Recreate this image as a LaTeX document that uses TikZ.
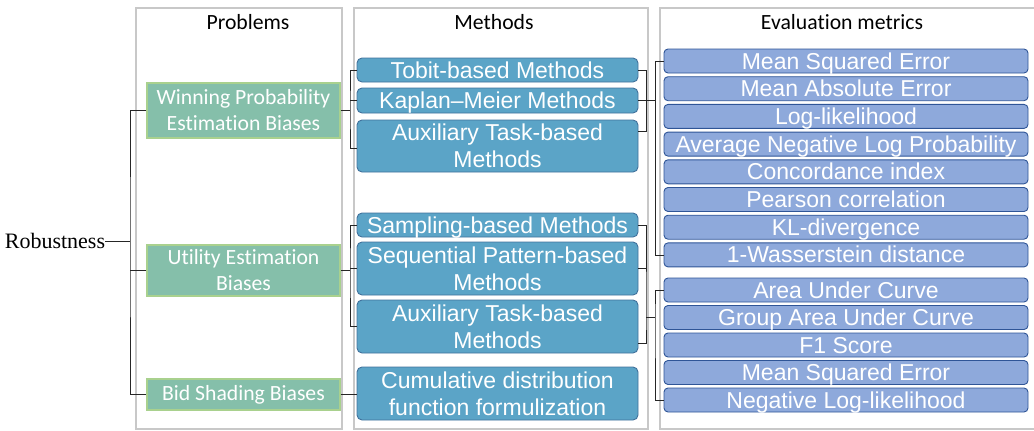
\documentclass[tikz,border=0pt]{standalone}
\usepackage{fontspec}
\setmainfont{Liberation Serif}
\newfontfamily\carlito[Ligatures=NoCommon]{Carlito}
\newfontfamily\arialf{Liberation Sans}
\usetikzlibrary{calc}
\definecolor{probfill}{RGB}{133,191,170}
\definecolor{probedge}{RGB}{169,209,142}
\definecolor{methfill}{RGB}{91,164,199}
\definecolor{methedge}{RGB}{65,113,156}
\definecolor{metfill}{RGB}{142,169,219}
\definecolor{metedge}{RGB}{47,85,151}
\definecolor{framegray}{RGB}{200,200,200}
\tikzset{
  colframe/.style={draw=framegray, line width=1.3pt},
  header/.style={font=\carlito\fontsize{21.7}{26}\selectfont, inner sep=0},
  probbox/.style={fill=probfill, draw=probedge, line width=1.3pt, text=white,
    font=\carlito\fontsize{21.7}{26}\selectfont, align=center, inner sep=0,
    minimum width=193pt},
  methbox/.style={fill=methfill, draw=methedge, line width=0.9pt, rounded corners=5pt,
    text=white, font=\arialf\fontsize{23}{27}\selectfont, align=center, inner sep=0,
    minimum width=281pt},
  oneline/.style={text height=17pt, text depth=1pt},
  metbox/.style={fill=metfill, draw=metedge, line width=0.9pt, rounded corners=4pt,
    text=white, font=\arialf\fontsize{23}{27}\selectfont, inner sep=0,
    minimum width=364pt, minimum height=24pt, oneline},
  link/.style={draw=black!85, line width=0.8pt}
}
\begin{document}
\begin{tikzpicture}[x=1pt,y=-1pt]
\useasboundingbox (0,0) rectangle (1034,431);
\draw[colframe] (136,8) rectangle (342,429);
\draw[colframe] (354,8) rectangle (648,429);
\draw[colframe] (660,8) rectangle (1040,429);
\node[header] (hprob) at (248,22) {Problems};
\node[header] (hmeth) at (494,22) {Methods};
\node[header] (hmet) at (842,22) {Evaluation metrics};

\node[inner sep=0, font=\fontsize{22}{26}\selectfont] (rob) at (55,241) {Robustness};

\node[probbox, minimum height=55pt] (wpeb) at (243.5,110.5) {Winning Probability\\Estimation Biases};
\node[probbox, minimum height=51pt] (ueb) at (243.5,270.5) {Utility Estimation\\Biases};
\node[probbox, minimum height=31pt] (bsb) at (243.5,394.5) {Bid Shading Biases};

\node[methbox, oneline, minimum height=24pt] (tobit) at (497.5,70) {Tobit-based Methods};
\node[methbox, oneline, minimum height=25pt] (kaplan) at (497.5,100.5) {Kaplan–Meier Methods};
\node[methbox, minimum height=52pt] (aux1) at (497.5,146) {Auxiliary Task-based\\Methods};
\node[methbox, oneline, minimum height=24pt] (sampling) at (497.5,225) {Sampling-based Methods};
\node[methbox, minimum height=53pt] (seq) at (497.5,268.5) {Sequential Pattern-based\\Methods};
\node[methbox, minimum height=53pt] (aux2) at (497.5,326.5) {Auxiliary Task-based\\Methods};
\node[methbox, minimum height=53pt] (cdf) at (497.5,393.5) {Cumulative distribution\\function formulization};

\foreach \lab [count=\i] in {Mean Squared Error, Mean Absolute Error, Log-likelihood,
    Average Negative Log Probability, Concordance index, Pearson correlation,
    KL-divergence, 1-Wasserstein distance}
  \node[metbox] (m\i) at (846,{61+27.7*(\i-1)}) {\lab};
\foreach \lab [count=\i] in {Area Under Curve, Group Area Under Curve, F1 Score,
    Mean Squared Error, Negative Log-likelihood}
  \node[metbox] (n\i) at (846,{290+27.5*(\i-1)}) {\lab};

\coordinate (rj) at (130,242);
\draw[link] (rob.east) -- (rob.east -| rj);
\draw[link] (wpeb.west) -| (rj) |- (bsb.west);
\draw[link] (ueb.west) -- (ueb.west -| rj);

\coordinate (pj1) at (350,110.5);
\coordinate (pj2) at (350,270.5);
\draw[link] (wpeb.east) -- (pj1);
\draw[link] (tobit.west) -| (pj1) |- ($(aux1.west)+(0,2)$);
\draw[link] (kaplan.west) -- (kaplan.west -| pj1);
\draw[link] (ueb.east) -- (pj2);
\draw[link] (sampling.west) -| (pj2) |- (aux2.west);
\draw[link] (seq.west) -- (seq.west -| pj2);
\draw[link] (bsb.east) -- (bsb.east -| cdf.west);

\coordinate (mj1) at ($(kaplan.east)+(8,0)$);
\coordinate (mb1) at ($(kaplan.east)+(17,0)$);
\draw[link] (tobit.east) -| (mj1) |- ($(aux1.east)+(0,-15)$);
\draw[link] (kaplan.east) -- (mb1);
\draw[link] (m1.west) -| (mb1) |- (m8.west);

\coordinate (mj2) at (646,317);
\coordinate (mb2) at (655,317);
\draw[link] (sampling.east) -| (mj2) |- ($(aux2.east)+(0,16.5)$);
\draw[link] (seq.east) -- (seq.east -| mj2);
\draw[link] (mj2) -- (mb2);
\draw[link] (n1.west) -| (mb2) |- (n5.west);
\end{tikzpicture}
\end{document}
